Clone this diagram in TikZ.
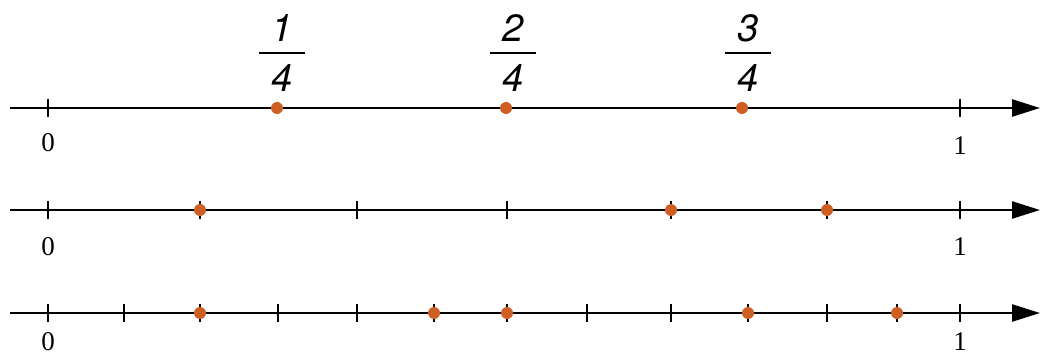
\documentclass[tikz,border=0pt]{standalone}
\usepackage{fontspec}
\newfontfamily\fracfont{TeX Gyre Heros}
\newfontfamily\labfont{Liberation Serif}
\usetikzlibrary{arrows.meta}
\definecolor{dotc}{RGB}{205,95,35}
\begin{document}
\begin{tikzpicture}[x=1pt,y=-1pt,
  axis/.style={line width=2.4pt, -{Triangle[length=28pt,width=17pt]}},
  tickmark/.style={line width=1.8pt},
  dotmark/.style={circle, fill=dotc, inner sep=0pt, minimum size=12pt},
  numlab/.style={font=\labfont\fontsize{27}{27}\selectfont, inner sep=0pt},
  fraclab/.style={font=\fracfont\itshape\fontsize{38}{38}\selectfont, inner sep=0pt},
  fracbar/.style={line width=1.6pt}]
\useasboundingbox (0,0) rectangle (1041,358);
% line 1
\coordinate (s1) at (10,108);
\coordinate (e1) at (1040,108);
\draw[axis] (s1) -- (e1);
\foreach \x in {48,960} \draw[tickmark] (\x,99) -- (\x,117);
\node[numlab] (z1) at (48,143) {0};
\node[numlab] (o1) at (960,146) {1};
\node[dotmark] (d11) at (277,108) {};
\node[dotmark] (d12) at (506,108) {};
\node[dotmark] (d13) at (742,108) {};
\foreach \c/\n/\i in {282/1/1,513/2/2,748/3/3}{
  \node[fraclab] (fn\i) at (\c,28) {\n};
  \coordinate (fl\i) at (\c-23,53);
  \coordinate (fr\i) at (\c+23,53);
  \draw[fracbar] (fl\i) -- (fr\i);
  \node[fraclab] (fd\i) at (\c,78) {4};
}
% line 2
\coordinate (s2) at (10,210);
\coordinate (e2) at (1040,210);
\draw[axis] (s2) -- (e2);
\foreach \x in {48,200,357,507,671,827,960} \draw[tickmark] (\x,201) -- (\x,219);
\node[numlab] (z2) at (48,247) {0};
\node[numlab] (o2) at (960,247) {1};
\node[dotmark] (d21) at (200,210) {};
\node[dotmark] (d22) at (671,210) {};
\node[dotmark] (d23) at (827,210) {};
% line 3
\coordinate (s3) at (10,313);
\coordinate (e3) at (1040,313);
\draw[axis] (s3) -- (e3);
\foreach \x in {48,124,200,278,357,434,507,587,671,748,827,897,960} \draw[tickmark] (\x,304) -- (\x,322);
\node[numlab] (z3) at (48,342) {0};
\node[numlab] (o3) at (960,342) {1};
\node[dotmark] (d31) at (200,313) {};
\node[dotmark] (d32) at (434,313) {};
\node[dotmark] (d33) at (507,313) {};
\node[dotmark] (d34) at (748,313) {};
\node[dotmark] (d35) at (897,313) {};
\end{tikzpicture}
\end{document}
